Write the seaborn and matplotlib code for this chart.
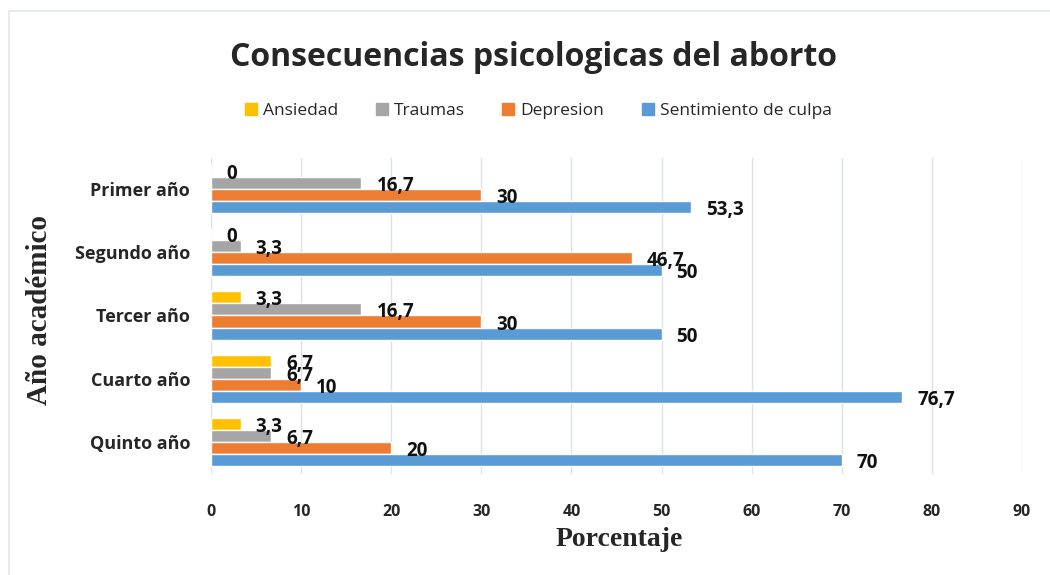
import matplotlib
matplotlib.use("Agg")
import matplotlib.pyplot as plt
import seaborn as sns
import pandas as pd
from matplotlib.lines import Line2D

categories = ["Primer año", "Segundo año", "Tercer año", "Cuarto año", "Quinto año"]
series = ["Ansiedad", "Traumas", "Depresion", "Sentimiento de culpa"]
ansiedad = [0, 0, 3.3, 6.7, 3.3]
traumas = [16.7, 3.3, 16.7, 6.7, 6.7]
depresion = [30, 46.7, 30, 10, 20]
sentimiento = [53.3, 50, 50, 76.7, 70]
x_ticks = [0, 10, 20, 30, 40, 50, 60, 70, 80, 90]
colors = ["#FFC000", "#A5A5A5", "#ED7D31", "#5B9BD5"]

values = [ansiedad, traumas, depresion, sentimiento]
rows = []
for s, vals in zip(series, values):
    for c, v in zip(categories, vals):
        rows.append({"Año": c, "Serie": s, "Valor": v})
df = pd.DataFrame(rows)

sns.set_style("white")
plt.rcParams["font.family"] = ["Open Sans", "DejaVu Sans"]

fig = plt.figure(figsize=(10.5, 5.75), dpi=100)
ax = fig.add_axes([211/1050, 1-473.5/575, (1022-211)/1050, (473.5-157.5)/575])

sns.barplot(data=df, y="Año", x="Valor", hue="Serie", order=categories,
            hue_order=series, palette=colors, orient="h", width=0.76,
            gap=0, saturation=1, ax=ax, legend=False, errorbar=None)

ax.set_xlim(0, 90)
ax.set_xticks(x_ticks)
ax.set_xticklabels([str(t) for t in x_ticks], fontsize=11.5, fontweight="bold")
ax.tick_params(axis="x", length=0, pad=22)
ax.tick_params(axis="y", length=0, pad=15, labelsize=13)
for lbl in ax.get_yticklabels():
    lbl.set_fontweight("bold")
ax.grid(axis="x", color="#DDE2E8", linewidth=1)
ax.set_axisbelow(True)
for sp in ax.spines.values():
    sp.set_visible(False)

# data labels
for container, vals in zip(ax.containers, values):
    for bar, v in zip(container, vals):
        yc = bar.get_y() + bar.get_height() / 2
        txt = f"{v:g}".replace(".", ",")
        ax.annotate(txt, xy=(bar.get_width(), yc), xytext=(15, -3),
                    textcoords="offset pixels", ha="left", va="center",
                    fontsize=13.5, fontweight="bold", color="#111111")

ax.set_xlabel("Porcentaje", family=["Liberation Serif"], fontsize=20,
              fontweight="bold")
ax.set_ylabel("Año académico", family=["Liberation Serif"], fontsize=21,
              fontweight="bold")
ax.xaxis.set_label_coords((545 + 74 - 211) / 811 - 0.0, (473.5 - 540) / 316)
ax.yaxis.set_label_coords((40 - 211) / 811, (473.5 - 310) / 316)
ax.xaxis.label.set_va("center")
ax.yaxis.label.set_va("center")

fig.text(534/1050, 1-58/575, "Consecuencias psicologicas del aborto",
         ha="center", va="center", fontsize=23, fontweight="bold")

handles = [Line2D([0], [0], marker="s", linestyle="none", markersize=8.5,
                  markerfacecolor=c, markeredgecolor=c) for c in colors]
fig.legend(handles, series, loc="center", bbox_to_anchor=(537/1050, 1-111/575),
           ncol=4, frameon=False, fontsize=12.5, handletextpad=0.2,
           columnspacing=2.0, handlelength=1.0)

# outer frame
fig.add_artist(Line2D([9/1050, 1], [1-11/575, 1-11/575], transform=fig.transFigure,
                      color="#E6EAEE", linewidth=1.5))
fig.add_artist(Line2D([9/1050, 9/1050], [0, 1-11/575], transform=fig.transFigure,
                      color="#E6EAEE", linewidth=1.5))

fig.savefig("out.png", dpi=100)
